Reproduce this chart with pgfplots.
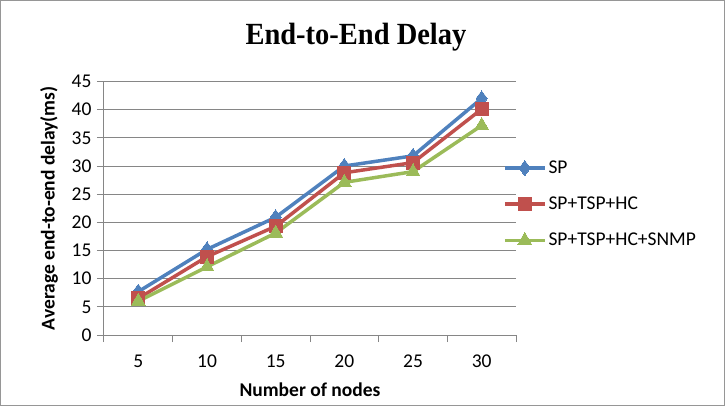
\documentclass[border=0pt]{standalone}
\usepackage{pgfplots}
\pgfplotsset{compat=1.18}
\usepackage{fontspec}
\setmainfont{Carlito}
\newfontfamily\titlefont{Liberation Serif}

\definecolor{spblue}{RGB}{79,129,189}
\definecolor{spred}{RGB}{192,80,77}
\definecolor{spgreen}{RGB}{155,187,89}
\definecolor{gridgray}{RGB}{134,134,134}
\definecolor{framegray}{RGB}{150,150,150}

\newcommand{\lbl}{\fontsize{19.5bp}{23bp}\selectfont}

\begin{document}
\begin{tikzpicture}[x=1bp,y=1bp]
% outer chart frame
\draw[framegray, line width=1bp] (-103.5,-70.5) rectangle (620.5,334.5);
% chart title
\node[font=\titlefont\bfseries\fontsize{28.5bp}{32bp}\selectfont, yscale=1.08] at (252,298) {End-to-End Delay};
\begin{axis}[
  at={(0,0)}, anchor=south west,
  scale only axis,
  width=412bp, height=253.5bp,
  xmin=-0.5, xmax=5.5,
  ymin=0, ymax=45,
  ytick={0,5,...,45},
  xtick={0,1,2,3,4,5},
  xticklabels={5,10,15,20,25,30},
  minor xtick={-0.5,0.5,...,5.5},
  major x tick style={draw=none},
  minor x tick style={gridgray, line width=1bp},
  minor tick length=7bp,
  major tick length=7bp,
  tick align=outside,
  y tick style={gridgray, line width=1bp},
  axis x line*=bottom,
  axis y line*=left,
  axis line style={gridgray, line width=1bp, -},
  ymajorgrids,
  grid style={gridgray, line width=1bp},
  /pgf/number format/assume math mode=true,
  tick label style={font=\lbl},
  xticklabel style={yshift=-9bp},
  yticklabel style={xshift=-2bp},
  xlabel={\bfseries Number of nodes},
  ylabel={\bfseries Average end-to-end delay(ms)},
  label style={font=\lbl},
  xlabel style={yshift=-9bp},
  ylabel style={yshift=7bp},
  legend style={
    at={(0.968,0.695)}, anchor=north west,
    draw=none, fill=none,
    font=\lbl,
    row sep=18bp,
    inner sep=0pt,
    /tikz/every even column/.append style={column sep=3bp},
  },
  legend cell align=left,
  legend image code/.code={%
    \draw[mark repeat=2, mark phase=2, #1]
      plot coordinates {(0bp,0bp) (20bp,0bp) (40bp,0bp)};%
  },
  every axis plot/.append style={line width=3.5bp, line join=round},
]
\addplot[spblue, mark=diamond*, mark size=7.5bp, mark options={line width=0pt}]
  coordinates {(0,7.7) (1,15.2) (2,20.9) (3,30.0) (4,31.8) (5,42.0)};
\addlegendentry{SP}
\addplot[spred, mark=square*, mark size=6.5bp, mark options={line width=0pt}]
  coordinates {(0,6.5) (1,13.9) (2,19.3) (3,28.8) (4,30.6) (5,40.1)};
\addlegendentry{SP+TSP+HC}
\addplot[spgreen, mark=triangle*, mark size=8bp, mark options={line width=0pt}]
  coordinates {(0,6.0) (1,12.1) (2,18.1) (3,27.1) (4,29.0) (5,37.2)};
\addlegendentry{SP+TSP+HC+SNMP}
\end{axis}
\end{tikzpicture}
\end{document}
